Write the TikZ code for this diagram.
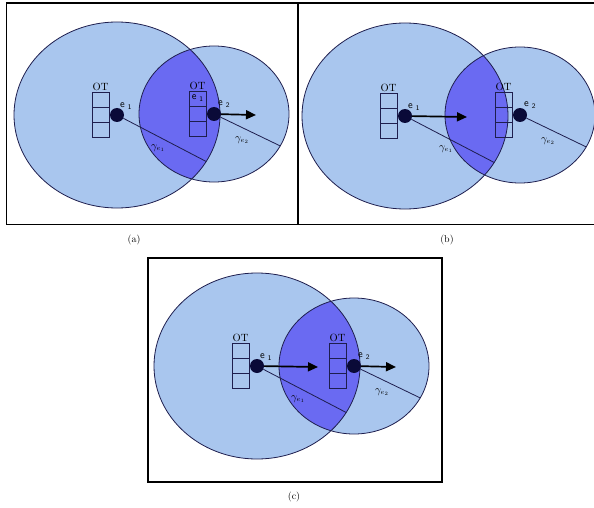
\documentclass[tikz,border=0pt]{standalone}
\usetikzlibrary{arrows.meta}
\definecolor{lightb}{HTML}{A9C6EE}
\definecolor{darkb}{HTML}{6A6AF2}
\definecolor{edgec}{HTML}{1E1E4E}
\definecolor{dotc}{HTML}{0A0A38}
\tikzset{
  rng/.style={draw=edgec, line width=0.8pt},
  dotnode/.style={circle, fill=dotc, minimum size=14pt, inner sep=0pt},
  framebox/.style={draw=black, line width=1.6pt},
  radline/.style={draw=edgec, line width=0.8pt},
  mv/.style={-{Triangle[length=10pt,width=9pt]}, line width=1.7pt, black},
  boxcell/.style={draw=edgec, line width=0.8pt},
  ot/.style={font=\fontsize{10.5}{10.5}\selectfont, inner sep=0pt, anchor=south},
  elab/.style={font=\sffamily\fontsize{10.5}{10.5}\selectfont, inner sep=0pt},
  glab/.style={font=\fontsize{10.5}{10.5}\selectfont, inner sep=0pt},
  capt/.style={font=\fontsize{10}{10}\selectfont, inner sep=0pt},
}
% #1 prefix, #2 e1 position, #3 e2 position
\newcommand\rangepair[3]{%
  \coordinate (#1c1) at #2;
  \coordinate (#1c2) at #3;
  \fill[lightb] (#1c1) ellipse[x radius=103pt, y radius=93pt];
  \fill[lightb] (#1c2) ellipse[x radius=75pt, y radius=68pt];
  \begin{scope}
    \clip (#1c1) ellipse[x radius=103pt, y radius=93pt];
    \fill[darkb] (#1c2) ellipse[x radius=75pt, y radius=68pt];
  \end{scope}
  \draw[rng] (#1c1) ellipse[x radius=103pt, y radius=93pt];
  \draw[rng] (#1c2) ellipse[x radius=75pt, y radius=68pt];
  \path (#1c1) ++(-30:103pt and 93pt) coordinate (#1r1);
  \path (#1c2) ++(-28:75pt and 68pt) coordinate (#1r2);
  \node[dotnode] (#1d1) at (#1c1) {};
  \node[dotnode] (#1d2) at (#1c2) {};
  \draw[radline] (#1d1) -- (#1r1);
  \draw[radline] (#1d2) -- (#1r2);
  \begin{scope}[shift={#2}]
    \draw[boxcell] (-25,-23) rectangle (-8,22);
    \draw[boxcell] (-25,-8) -- (-8,-8) (-25,7) -- (-8,7);
    \node[ot] (#1ot1) at (-16.5,-24) {OT};
    \node[elab, anchor=west] (#1e1) at (3,-9) {e\hspace{3pt}\raisebox{-2pt}{\fontsize{7}{7}\selectfont 1}};
    \node[glab] (#1g1) at (41,33) {$\gamma_{e_1}$};
  \end{scope}
  \begin{scope}[shift={#3}]
    \draw[boxcell] (-25,-23) rectangle (-8,22);
    \draw[boxcell] (-25,-8) -- (-8,-8) (-25,7) -- (-8,7);
    \node[ot] (#1ot2) at (-16.5,-24) {OT};
    \node[elab, anchor=west] (#1e2) at (4,-10) {e\hspace{3pt}\raisebox{-2pt}{\fontsize{7}{7}\selectfont 2}};
    \node[glab] (#1g2) at (28,26) {$\gamma_{e_2}$};
  \end{scope}
}
\begin{document}
\begin{tikzpicture}[x=1pt, y=-1pt]
\useasboundingbox (0,0) rectangle (594,508);
\clip (0,0) rectangle (594,508);
\fill[white] (0,0) rectangle (594,508);

% panel (a)
\rangepair{a}{(117,115)}{(214,114)}
\node[elab] (ain) at (-16.5+214,-16+114) {e\hspace{3pt}\raisebox{-2pt}{\fontsize{7}{7}\selectfont 1}};
\coordinate (aend2) at (256,115);
\draw[mv] (ad2) -- (aend2);
\draw[framebox] (6.5,3) rectangle (298,224.5);
\node[capt] (capa) at (134,240) {(a)};

% panel (b)
\rangepair{b}{(405,116)}{(520,115)}
\coordinate (bend1) at (467,117);
\draw[mv] (bd1) -- (bend1);
\draw[framebox] (600,3) -- (298,3) -- (298,224.5) -- (600,224.5);
\node[capt] (capb) at (447,240) {(b)};

% panel (c)
\rangepair{c}{(257,366)}{(354,366)}
\coordinate (cend1) at (318,367);
\coordinate (cend2) at (396,367);
\draw[mv] (cd1) -- (cend1);
\draw[mv] (cd2) -- (cend2);
\draw[framebox] (148,258) rectangle (442,482);
\node[capt] (capc) at (294,497) {(c)};
\end{tikzpicture}
\end{document}
